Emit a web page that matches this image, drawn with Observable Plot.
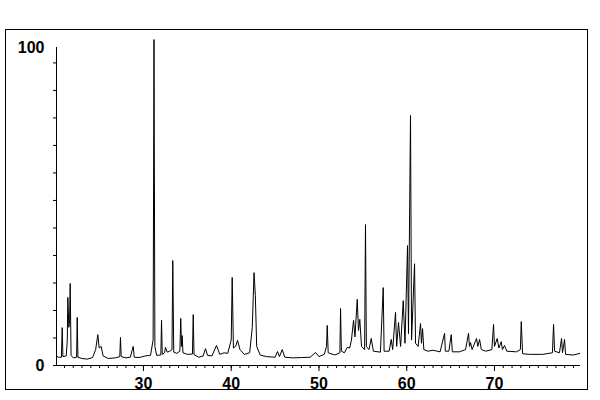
<!DOCTYPE html>
<html>
<head>
<meta charset="utf-8">
<script src="https://cdn.jsdelivr.net/npm/d3@7"></script>
<script src="https://cdn.jsdelivr.net/npm/@observablehq/plot@0.6"></script>
<style>
  body { margin: 0; background: #fff; }
  #wrap { position: relative; width: 600px; height: 400px; }
  #box { position: absolute; left: 5px; top: 29px; width: 583px; height: 361px; border: 1px solid #000; box-sizing: border-box; }
  #chart { position: absolute; left: 0; top: 0; }
</style>
</head>
<body>
<div id="wrap"><div id="box"></div><div id="chart"></div></div>
<script>
const twoTheta = [
  20.09, 20.3, 20.65, 20.74, 20.82, 21.2, 21.32, 21.38, 21.5, 21.58, 21.65, 21.75, 22.0, 22.38, 22.45, 22.53,
  23.0, 23.6, 24.2, 24.55, 24.8, 24.95, 25.18, 25.4, 26.0, 26.8, 27.3, 27.38, 27.46, 28.0, 28.5, 28.83, 28.95,
  29.5, 30.2, 30.8, 31.1, 31.2, 31.3, 31.5, 31.98, 32.06, 32.14, 32.4, 32.51, 32.7, 33.0, 33.25, 33.34, 33.45,
  33.8, 34.15, 34.25, 34.33, 34.41, 34.5, 35.0, 35.58, 35.67, 35.76, 36.3, 36.8, 37.07, 37.3, 37.8, 38.32, 38.7,
  39.2, 39.6, 40.0, 40.11, 40.25, 40.5, 40.72, 41.0, 41.5, 42.1, 42.4, 42.6, 42.75, 42.9, 43.3, 44.0, 45.0,
  45.27, 45.5, 45.81, 46.1, 47.0, 48.0, 49.0, 49.61, 50.0, 50.6, 50.86, 50.94, 51.05, 51.8, 52.38, 52.46, 52.55,
  52.9, 53.22, 53.5, 53.7, 53.94, 54.1, 54.36, 54.5, 54.65, 54.85, 55.2, 55.3, 55.4, 55.7, 55.95, 56.2, 57.0,
  57.32, 57.42, 58.0, 58.23, 58.4, 58.72, 58.85, 59.06, 59.3, 59.6, 59.8, 60.09, 60.2, 60.43, 60.55, 60.89, 61.0,
  61.3, 61.57, 61.68, 61.8, 61.95, 62.4, 63.0, 63.8, 64.31, 64.4, 64.8, 65.07, 65.2, 66.0, 66.7, 67.04, 67.15,
  67.27, 67.45, 67.95, 68.1, 68.3, 68.5, 69.0, 69.7, 69.89, 70.0, 70.31, 70.5, 70.77, 70.9, 71.14, 71.4, 72.5,
  72.95, 73.05, 73.2, 74.0, 75.5, 76.6, 76.73, 76.85, 77.4, 77.64, 77.75, 77.98, 78.1, 79.0, 79.7
];
const intensity = [
  3.0, 2.6, 2.6, 11.9, 2.8, 3.0, 8, 21.4, 12, 14, 25.8, 3.2, 2.4, 2.6, 15.1, 2.6,
  2.2, 2.0, 2.5, 5, 9.7, 5.5, 6.0, 3.0, 2.2, 2.4, 2.8, 8.8, 2.8, 2.4, 2.6, 6.0, 2.6,
  2.5, 3.0, 3.2, 8, 102.5, 6, 3.2, 3.3, 14.2, 3.5, 4, 5.7, 4.2, 4.5, 5, 33.0, 4.2,
  3.8, 4.5, 14.8, 6, 9.4, 4, 3.5, 3.6, 16.0, 3.4, 2.6, 3, 5.3, 3.2, 3, 6.3, 3.5,
  4, 3.8, 8, 27.7, 5.5, 6, 7.9, 5, 3.5, 4, 12, 29.2, 22, 6, 3.3, 2.8, 2.6,
  4.4, 2.8, 5.0, 2.6, 2.4, 2.5, 2.6, 4.1, 2.8, 3.5, 6, 12.6, 4, 3.3, 4, 17.9, 4.5,
  4, 5.7, 5.5, 8, 14.2, 9, 20.8, 11, 14.5, 6, 5, 44.3, 6, 5, 8.5, 4.5, 4.2,
  24.5, 4.5, 4.5, 8.2, 5, 16.7, 6, 13.5, 6, 20.4, 7, 37.7, 10, 78.6, 8, 32, 7,
  6, 13.2, 7, 11.6, 5, 4.5, 4.8, 4.3, 10.1, 4.5, 4.5, 9.7, 4.3, 4.3, 5, 10.1, 6,
  7.2, 5, 8.5, 6, 8.2, 5, 4.5, 5, 12.9, 6, 8.5, 5.5, 7.5, 5, 6.3, 4.5, 4.3,
  5, 13.8, 3.7, 3.5, 3.5, 4, 12.9, 4.5, 4, 8.5, 4, 8.2, 3.5, 3.3, 3.8
];
const xTickLabels = [30, 40, 50, 60, 70];
const xMinorTicks = d3.range(21, 80, 1);
const yTickLabels = [0, 100];
const yMinorTicks = d3.range(0, 101, 8.65);

const data = twoTheta.map((t, i) => ({t, v: intensity[i]}));
const xDomain = [20.09, 79.8];

const chart = Plot.plot({
  width: 600,
  height: 400,
  marginLeft: 56,
  marginRight: 20,
  marginTop: 47,
  marginBottom: 35,
  style: {fontFamily: "'Liberation Sans', Arial, sans-serif", fontSize: "16px", fontWeight: "bold", color: "#000", background: "transparent"},
  x: {domain: xDomain},
  y: {domain: [0, 100]},
  marks: [
    Plot.ruleY([0], {stroke: "#000", strokeWidth: 1}),
    Plot.ruleX([xDomain[0]], {y1: 0, y2: 100, stroke: "#000", strokeWidth: 1}),
    Plot.axisX({ticks: xMinorTicks, tickSize: 3, text: null, label: null, strokeWidth: 1}),
    Plot.axisX({ticks: xTickLabels, tickSize: 6, tickPadding: 6, label: null, fontSize: 16, tickFormat: d => String(d)}),
    Plot.axisY({ticks: yMinorTicks, tickSize: 3, text: null, label: null}),
    Plot.axisY({ticks: yTickLabels, tickSize: 0, tickPadding: 12, label: null, fontSize: 16, tickFormat: d => String(d)}),
    Plot.line(data, {x: "t", y: "v", stroke: "#000", strokeWidth: 1})
  ]
});
document.getElementById("chart").appendChild(chart);
</script>
</body>
</html>
